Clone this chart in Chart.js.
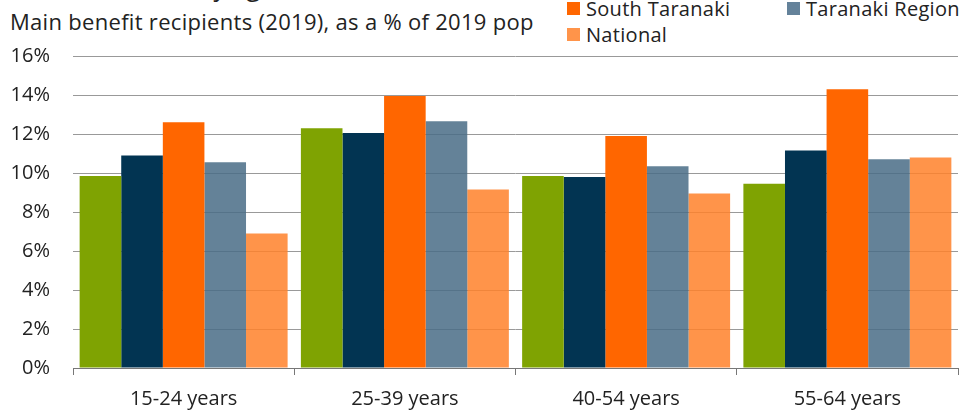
<!DOCTYPE html>
<html>
<head>
<meta charset="utf-8">
<script src="https://cdn.jsdelivr.net/npm/chart.js@4/dist/chart.umd.min.js"></script>
<style>
  html, body { margin: 0; padding: 0; background: #fff; overflow: hidden; }
  body { width: 961px; height: 411px; position: relative; font-family: "Open Sans", "Noto Sans", sans-serif; color: #222; }
  #title { position: absolute; left: 10px; top: -31px; font-size: 25px; white-space: nowrap; }
  #subtitle { position: absolute; left: 10px; top: 6px; font-size: 22px; letter-spacing: 0.3px; white-space: nowrap; }
  #legend { position: absolute; left: 567px; top: -31px; display: grid; grid-template-columns: 220px 200px; row-gap: 0; font-size: 20px; letter-spacing: 0.3px; }
  .item { display: flex; align-items: center; height: 26px; white-space: nowrap; }
  .sw { width: 13px; height: 13px; margin-right: 6px; flex: none; }
  #wrap { position: absolute; left: 0; top: 0; width: 961px; height: 411px; }
</style>
</head>
<body>
<div id="title">Benefit reliance by age</div>
<div id="subtitle">Main benefit recipients (2019), as a % of 2019 pop</div>
<div id="legend"></div>
<div id="wrap"><canvas id="chart"></canvas></div>
<script>
// Age groups on the x axis
const ageGroups = ['15-24 years', '25-39 years', '40-54 years', '55-64 years'];

// Series names (first two sit above the visible crop)
const seriesNames = ['Hāwera', 'Pātea', 'South Taranaki', 'Taranaki Region', 'National'];

// Values, % of 2019 population
const seriesA = [9.85, 12.3, 9.85, 9.45];
const seriesB = [10.9, 12.05, 9.8, 11.15];
const southTaranaki = [12.6, 13.95, 11.9, 14.3];
const taranakiRegion = [10.55, 12.65, 10.35, 10.7];
const national = [6.9, 9.15, 8.95, 10.8];

const yTicks = [0, 2, 4, 6, 8, 10, 12, 14, 16];

const colors = ['#7FA302', '#023452', 'rgba(255,102,0,1)', 'rgba(73,108,134,0.85)', 'rgba(255,129,42,0.85)'];
const swatchColors = ['#7FA302', '#023452', '#FF6600', '#64829A', '#FF944A'];

const allSeries = [seriesA, seriesB, southTaranaki, taranakiRegion, national];

// html legend, 2 columns
const legendDiv = document.getElementById('legend');
seriesNames.forEach((name, i) => {
  const el = document.createElement('div');
  el.className = 'item';
  el.innerHTML = `<span class="sw" style="background:${swatchColors[i]}"></span>${name}`;
  legendDiv.appendChild(el);
});

const fontFamily = '"Open Sans", "Noto Sans", sans-serif';

new Chart(document.getElementById('chart'), {
  type: 'bar',
  data: {
    labels: ageGroups,
    datasets: allSeries.map((vals, i) => ({
      label: seriesNames[i],
      data: vals,
      backgroundColor: colors[i],
      borderWidth: 0,
      barPercentage: 1,
      categoryPercentage: 0.94
    }))
  },
  options: {
    responsive: true,
    maintainAspectRatio: false,
    animation: false,
    layout: { padding: { top: 56, right: 3, left: 10, bottom: 0 } },
    plugins: {
      legend: { display: false },
      tooltip: { enabled: false }
    },
    scales: {
      x: {
        afterFit: axis => { axis.height = 43; },
        grid: { display: true, drawOnChartArea: false, offset: true, tickLength: 7, color: '#777', lineWidth: 1 },
        border: { display: true, color: '#777', width: 1 },
        ticks: { color: '#222', font: { family: fontFamily, size: 20 }, padding: 12 }
      },
      y: {
        min: 0,
        max: 16,
        afterBuildTicks: axis => { axis.ticks = yTicks.map(v => ({ value: v })); },
        afterFit: axis => { axis.width = 63; },
        grid: { color: '#999', lineWidth: 1, drawTicks: false },
        border: { display: false },
        ticks: {
          color: '#222',
          font: { family: fontFamily, size: 20 },
          padding: 23,
          callback: v => v + '%'
        }
      }
    }
  }
});
</script>
</body>
</html>
